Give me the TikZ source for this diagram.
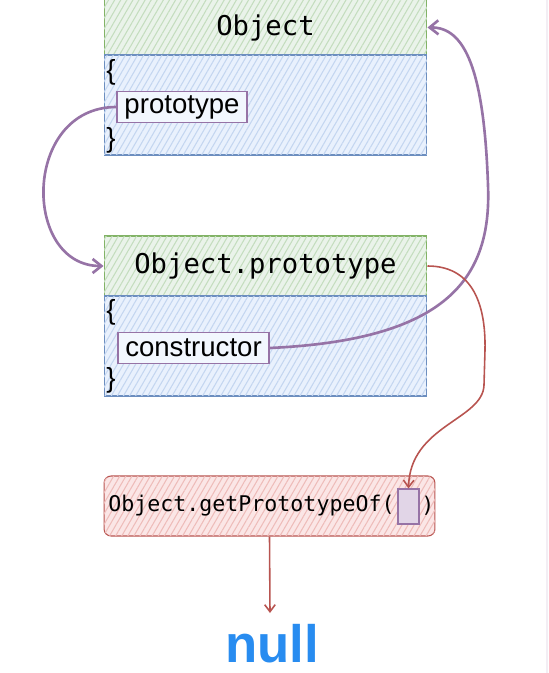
\documentclass[tikz,border=0pt]{standalone}
\usepackage{fontspec}
\usepackage{xcolor}
\usepackage{tikz}
\usetikzlibrary{arrows.meta, patterns.meta}
\setmainfont{Liberation Sans}
\newfontfamily\handfont{DejaVu Sans Mono}
\definecolor{headgreen}{RGB}{130, 179, 102}
\definecolor{fillgreen}{RGB}{213, 232, 212}
\definecolor{bodyblue}{RGB}{108, 142, 191}
\definecolor{fillblue}{RGB}{218, 232, 252}
\definecolor{linkpurple}{RGB}{150, 115, 166}
\definecolor{fillpurple}{RGB}{225, 213, 231}
\definecolor{callred}{RGB}{184, 84, 80}
\definecolor{fillred}{RGB}{248, 206, 204}
\definecolor{nullblue}{RGB}{40, 140, 240}

\begin{document}
\begin{tikzpicture}[x=0.02cm, y=-0.02cm,
    hatch/.style={postaction={pattern={Lines[angle=60, distance=3pt, line width=0.6pt]}, pattern color=#1}},
    headbox/.style={draw=headgreen, line width=0.6pt, fill=fillgreen!50, hatch=fillgreen!80!headgreen, minimum width=6.46cm, minimum height=1.2cm, inner sep=0pt, font=\handfont\fontsize{15.5}{18}\selectfont},
    bodybox/.style={draw=bodyblue, line width=0.6pt, fill=fillblue!60, hatch=fillblue!80!bodyblue, minimum width=6.46cm, minimum height=2cm, inner sep=0pt},
    fieldbox/.style={draw=linkpurple, line width=0.6pt, fill=fillblue!35, minimum height=0.62cm, inner sep=0pt, font=\fontsize{15.7}{18}\selectfont},
    brace/.style={anchor=west, inner sep=0pt, font=\fontsize{15.7}{18}\selectfont},
    link/.style={linkpurple, line width=1.5pt, -{Straight Barb[length=5pt, width=8pt]}},
    call/.style={callred, line width=0.9pt, -{Straight Barb[length=4pt, width=6pt]}}]
        \useasboundingbox (0,0) rectangle (548,673);
        \fill[linkpurple!12] (546,0) rectangle (548,673);

        % Object
        \node[headbox, minimum height=1.14cm] (objhead) at (265.5,27.5) {Object};
        \node[bodybox] (objbody) at (265.5,105) {};
        \node[brace] (objopen) at (106,72) {\{};
        \node[fieldbox, minimum width=2.6cm] (proto) at (182,107) {prototype};
        \node[brace] (objclose) at (106,140) {\}};

        % Object.prototype
        \node[headbox] (ptohead) at (265.5,266) {Object.prototype};
        \node[bodybox] (ptobody) at (265.5,346) {};
        \node[brace] (ptoopen) at (106,312) {\{};
        \node[fieldbox, minimum width=3.02cm] (ctor) at (193.5,348) {constructor};
        \node[brace] (ptoclose) at (106,380) {\}};

        % Object.getPrototypeOf
        \node[draw=callred, line width=0.6pt, fill=fillred!50, hatch=fillred!85!callred, rounded corners=4pt, minimum width=6.62cm, minimum height=1.2cm, inner sep=0pt] (getbox) at (269.5,506) {};
        \node[anchor=west, inner sep=0pt, font=\handfont\fontsize{12.3}{15}\selectfont] (gettext) at (108,506) {Object.getPrototypeOf(};
        \node[draw=linkpurple, line width=0.6pt, fill=fillpurple, minimum width=0.42cm, minimum height=0.7cm, inner sep=0pt] (slot) at (408.5,506.5) {};
        \node[anchor=west, inner sep=0pt, font=\handfont\fontsize{12.3}{15}\selectfont] (getclose) at (421,506) {)};

        % null
        \node[nullblue, inner sep=0pt, font=\bfseries\fontsize{30}{34}\selectfont] (nulltxt) at (272,644) {null};
        \coordinate (nulltip) at (270,613);

        % 连线
        \draw[link] (proto.west) .. controls (22,107) and (22,266) .. (ptohead.west);
        \draw[link] (ctor.east) .. controls (445,340) and (492,280) .. (488,185)
            .. controls (484,70) and (465,27) .. (objhead.east);
        \draw[call] (ptohead.east) .. controls (470,266) and (486,300) .. (485,350)
            -- (484,385) .. controls (483,420) and (410,425) .. (slot.north);
        \draw[call] (getbox.south) -- (nulltip);
    \end{tikzpicture}
\end{document}
